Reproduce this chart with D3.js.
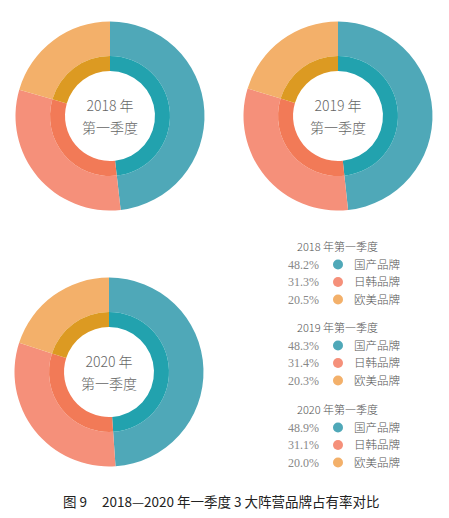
<!DOCTYPE html>
<html>
<head>
<meta charset="utf-8">
<script src="https://cdn.jsdelivr.net/npm/d3@7"></script>
<style>
  body { margin: 0; background: #fff; }
  svg { display: block; }
</style>
</head>
<body>
<div id="chart"></div>
<script>
// -DATA-
const years = ["2018", "2019", "2020"];
const brands = ["国产品牌", "日韩品牌", "欧美品牌"];
const share2018 = [48.2, 31.3, 20.5];
const share2019 = [48.3, 31.4, 20.3];
const share2020 = [48.9, 31.1, 20.0];
const shares = [share2018, share2019, share2020];

// outer ring / inner ring colours
const outerColors = ["#4fa8b8", "#f5907a", "#f3b06a"];
const innerColors = ["#22a2ae", "#f27a57", "#dc9a22"];

const W = 449, H = 518;

const svg = d3.select("#chart")
    .append("svg")
    .attr("width", W)
    .attr("height", H);

// donut centres
const centres = [[110, 116], [338, 116], [109, 372]];

const pie = d3.pie().sort(null).value(d => d);
const outerArc = d3.arc().innerRadius(60).outerRadius(94.5);
const innerArc = d3.arc().innerRadius(45).outerRadius(60);

const colOuter = d3.scaleOrdinal().domain(brands).range(outerColors);
const colInner = d3.scaleOrdinal().domain(brands).range(innerColors);

years.forEach((yr, k) => {
    const g = svg.append("g")
        .attr("transform", "translate(" + centres[k][0] + "," + centres[k][1] + ")");

    const arcs = pie(shares[k]);

    g.selectAll("path.outer")
        .data(arcs)
        .enter()
        .append("path")
        .attr("class", "outer")
        .attr("d", outerArc)
        .attr("fill", (d, i) => colOuter(brands[i]));

    g.selectAll("path.inner")
        .data(arcs)
        .enter()
        .append("path")
        .attr("class", "inner")
        .attr("d", innerArc)
        .attr("fill", (d, i) => colInner(brands[i]));

    g.append("text")
        .attr("text-anchor", "middle")
        .attr("y", -5)
        .attr("font-family", "'Noto Sans CJK SC', 'Noto Sans', sans-serif")
        .attr("font-size", 14)
        .attr("font-weight", 300)
        .attr("fill", "#666")
        .text(yr + " 年");

    g.append("text")
        .attr("text-anchor", "middle")
        .attr("y", 17)
        .attr("font-family", "'Noto Sans CJK SC', 'Noto Sans', sans-serif")
        .attr("font-size", 14)
        .attr("font-weight", 300)
        .attr("fill", "#666")
        .text("第一季度");
});

// -LEGEND-
const legend = svg.append("g").attr("id", "legend");
const legendTop = [247, 328, 410];
const rowStep = 17.5;

years.forEach((yr, k) => {
    const lg = legend.append("g")
        .attr("transform", "translate(0," + legendTop[k] + ")");

    lg.append("text")
        .attr("x", 297)
        .attr("y", 4)
        .attr("font-family", "'Noto Sans CJK SC', sans-serif")
        .attr("font-size", 11)
        .attr("font-weight", 300)
        .attr("fill", "#555")
        .text(yr + " 年第一季度");

    const rows = lg.selectAll("g.row")
        .data(shares[k])
        .enter()
        .append("g")
        .attr("class", "row")
        .attr("transform", (d, i) => "translate(0," + (rowStep * (i + 1)) + ")");

    rows.append("text")
        .attr("x", 319)
        .attr("y", 4)
        .attr("text-anchor", "end")
        .attr("font-family", "'Liberation Serif', 'DejaVu Serif', serif")
        .attr("font-size", 12)
        .attr("fill", "#888")
        .text(d => d.toFixed(1) + "%");

    rows.append("circle")
        .attr("cx", 338)
        .attr("cy", 0)
        .attr("r", 5)
        .attr("fill", (d, i) => colOuter(brands[i]));

    rows.append("text")
        .attr("x", 354)
        .attr("y", 4)
        .attr("font-family", "'Noto Sans CJK SC', sans-serif")
        .attr("font-size", 11.5)
        .attr("font-weight", 300)
        .attr("fill", "#555")
        .text((d, i) => brands[i]);
});

// -CAPTION-
const caption = svg.append("text")
    .attr("x", 63)
    .attr("y", 507)
    .attr("font-family", "'Noto Sans CJK SC', sans-serif")
    .attr("font-size", 13.5)
    .attr("fill", "#222");
caption.append("tspan").text("图 9");
caption.append("tspan").attr("x", 102).text("2018—2020 年一季度 3 大阵营品牌占有率对比");
</script>
</body>
</html>
